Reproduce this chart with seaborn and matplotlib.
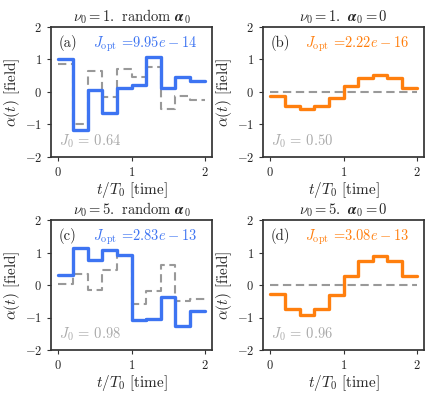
import numpy as np
import pandas as pd
import matplotlib
matplotlib.use("Agg")
import matplotlib.pyplot as plt
from matplotlib.mathtext import MathTextParser
import seaborn as sns

sns.set_theme(style="ticks")
plt.rcParams.update({
    "font.family": "serif",
    "font.serif": ["cmr10", "DejaVu Serif"],
    "mathtext.fontset": "cm",
    "axes.formatter.use_mathtext": True,
    "axes.unicode_minus": True,
    "axes.edgecolor": "#333333",
})

t_edges = [0.0, 0.2, 0.4, 0.6, 0.8, 1.0, 1.2, 1.4, 1.6, 1.8, 2.0]

a_opt = [1.00, -1.18, 0.07, -0.65, 0.12, 0.22, 1.08, 0.12, 0.47, 0.33]
a_init = [0.87, -0.97, 0.65, -0.15, 0.70, 0.45, 0.77, -0.52, -0.12, -0.25]
b_opt = [-0.13, -0.42, -0.52, -0.43, -0.17, 0.17, 0.42, 0.52, 0.42, 0.13]
b_init = [0.0] * 10
c_opt = [0.30, 1.15, 0.77, 1.07, 0.93, -1.07, -1.05, -0.37, -1.27, -0.80]
c_init = [0.02, 0.35, -0.15, 0.47, 0.88, -0.58, -0.17, 0.63, -0.50, -0.43]
d_opt = [-0.28, -0.73, -0.92, -0.75, -0.30, 0.28, 0.73, 0.90, 0.73, 0.27]
d_init = [0.0] * 10

# bold alpha if mathtext supports \boldsymbol
bold_alpha = r"\mathbf{\alpha}"
try:
    MathTextParser("path").parse(r"$\boldsymbol{\alpha}_0$")
    bold_alpha = r"\boldsymbol{\alpha}"
except Exception:
    pass

titles = [r"$\nu_0 = 1.$ random $" + bold_alpha + r"_0$",
          r"$\nu_0 = 1.$ $" + bold_alpha + r"_0 = 0$",
          r"$\nu_0 = 5.$ random $" + bold_alpha + r"_0$",
          r"$\nu_0 = 5.$ $" + bold_alpha + r"_0 = 0$"]
labels = ["(a)", "(b)", "(c)", "(d)"]
j_opt = [r"$J_{\rm opt}$ =9.95$e-14$", r"$J_{\rm opt}$ =2.22$e-16$",
         r"$J_{\rm opt}$ =2.83$e-13$", r"$J_{\rm opt}$ =3.08$e-13$"]
j_0 = [r"$J_0\,=\,0.64$", r"$J_0\,=\,0.50$", r"$J_0\,=\,0.98$", r"$J_0\,=\,0.96$"]
opts = [a_opt, b_opt, c_opt, d_opt]
inits = [a_init, b_init, c_init, d_init]

BLUE = "#3d74f2"
ORANGE = "#ff7f0e"
GRAY = "#999999"
colors = [BLUE, ORANGE, BLUE, ORANGE]

fig = plt.figure(figsize=(4.36, 3.97), dpi=100)
W, H = 436, 397
boxes = [(51, 27, 212, 157), (263, 27, 424, 157),
         (51, 220, 212, 350), (263, 220, 424, 350)]

for i in range(4):
    x0, y0, x1, y1 = boxes[i]
    ax = fig.add_axes([x0 / W, 1 - y1 / H, (x1 - x0) / W, (y1 - y0) / H])
    df_init = pd.DataFrame({"t": t_edges, "a": inits[i] + [inits[i][-1]]})
    df_opt = pd.DataFrame({"t": t_edges, "a": opts[i] + [opts[i][-1]]})
    sns.lineplot(data=df_init, x="t", y="a", ax=ax, color=GRAY, lw=1.5,
                 linestyle=(0, (4, 2.2)), drawstyle="steps-post", sort=False)
    sns.lineplot(data=df_opt, x="t", y="a", ax=ax, color=colors[i], lw=2.4,
                 drawstyle="steps-post", sort=False)
    ax.set_xlim(-0.1, 2.1)
    ax.set_ylim(-2, 2)
    ax.set_xticks([0, 1, 2])
    ax.set_yticks([-2, -1, 0, 1, 2])
    ax.tick_params(labelsize=9, length=3, width=0.8, color="#333333")
    ax.set_xlabel(r"$t/T_0$ [time]", fontsize=11, labelpad=1)
    ax.set_ylabel(r"$\alpha(t)$ [field]", fontsize=11, labelpad=2)
    ax.set_title(titles[i], fontsize=10.5, pad=4)
    ax.text(0.05, 0.94, labels[i], transform=ax.transAxes, fontsize=10.5,
            va="top", ha="left", color="#222222")
    ax.text(0.905, 0.94, j_opt[i], transform=ax.transAxes, fontsize=10.4,
            va="top", ha="right", color=colors[i])
    ax.text(0.05, 0.05, j_0[i], transform=ax.transAxes, fontsize=10.5,
            va="bottom", ha="left", color="#aaaaaa")

fig.savefig("out.png", dpi=100)
